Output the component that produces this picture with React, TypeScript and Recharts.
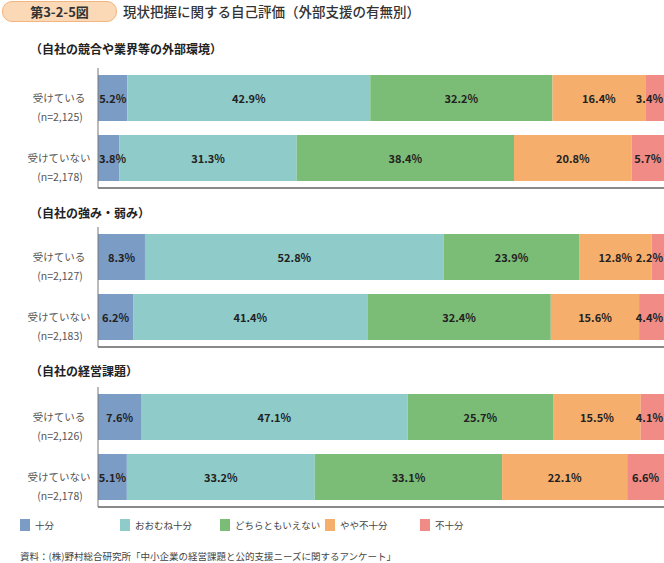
import React from 'react';
import { BarChart, Bar, XAxis, YAxis, LabelList } from 'recharts';

const seriesNames = ['十分', 'おおむね十分', 'どちらともいえない', 'やや不十分', '不十分'];
const seriesColors = ['#7b9cc5', '#8fcbc8', '#7bbc77', '#f5ae6c', '#f08b85'];

const panelTitles = ['（自社の競合や業界等の外部環境）', '（自社の強み・弱み）', '（自社の経営課題）'];
const rowLabels = ['受けている', '受けていない'];
const sampleSizes = [
  ['(n=2,125)', '(n=2,178)'],
  ['(n=2,127)', '(n=2,183)'],
  ['(n=2,126)', '(n=2,178)'],
];

// values per row, in series order
const environmentValues = [
  [5.2, 42.9, 32.2, 16.4, 3.4],
  [3.8, 31.3, 38.4, 20.8, 5.7],
];
const strengthValues = [
  [8.3, 52.8, 23.9, 12.8, 2.2],
  [6.2, 41.4, 32.4, 15.6, 4.4],
];
const issueValues = [
  [7.6, 47.1, 25.7, 15.5, 4.1],
  [5.1, 33.2, 33.1, 22.1, 6.6],
];

const panelValues = [environmentValues, strengthValues, issueValues];
const panelTops = [68, 227, 387];
const titleTops = [40, 204, 362];

const FONT = '"Noto Sans CJK JP", "Noto Sans", sans-serif';

const RowTick = ({ y, payload, sizes }: any) => {
  const idx = rowLabels.indexOf(payload.value);
  return (
    <g>
      <text x={59} y={y - 1} textAnchor="middle" dominantBaseline="central" fontSize={10.5} fill="#555" fontFamily={FONT}>
        {payload.value}
      </text>
      <text x={60} y={y + 18} textAnchor="middle" dominantBaseline="central" fontSize={10.5} fill="#555" fontFamily={FONT}>
        {sizes[idx]}
      </text>
    </g>
  );
};

// keep segment labels inside the plot, like the original
const SegmentLabel = ({ x, y, width, height, value }: any) => {
  const text = `${Number(value).toFixed(1)}%`;
  const half = text.length * 3.3;
  let cx = x + width / 2;
  let anchor: any = 'middle';
  if (cx + half > 663) {
    cx = 663;
    anchor = 'end';
  } else if (cx - half < 99) {
    cx = 99;
    anchor = 'start';
  }
  return (
    <text x={cx} y={y + height / 2} textAnchor={anchor} dominantBaseline="central" fill="#222" fontSize={11} fontWeight="bold" fontFamily={FONT}>
      {text}
    </text>
  );
};

const Panel = ({ values, sizes, top }: any) => {
  const data = rowLabels.map((name, i) => {
    const row: any = { name };
    values[i].forEach((v: number, k: number) => {
      row[`s${k}`] = v;
    });
    return row;
  });
  return (
    <div style={{ position: 'absolute', left: 0, top }}>
      <BarChart
        width={664}
        height={121}
        data={data}
        layout="vertical"
        margin={{ top: 0, right: 0, bottom: 0, left: 0 }}
      >
        <XAxis
          type="number"
          domain={[0, 100]}
          allowDataOverflow
          height={1}
          tick={false}
          tickLine={false}
          axisLine={{ stroke: '#8a8a8a', strokeWidth: 2 }}
        />
        <YAxis
          type="category"
          dataKey="name"
          width={98}
          tickLine={false}
          axisLine={{ stroke: '#777' }}
          tick={<RowTick sizes={sizes} />}
        />
        {seriesNames.map((s, k) => (
          <Bar key={s} dataKey={`s${k}`} stackId="a" fill={seriesColors[k]} barSize={46} isAnimationActive={false}>
            <LabelList dataKey={`s${k}`} content={<SegmentLabel />} />
          </Bar>
        ))}
      </BarChart>
    </div>
  );
};

const legendX = [20, 120, 220, 325, 420];

export default function App() {
  return (
    <div style={{ position: 'absolute', left: 0, top: 0, width: 664, height: 563, background: '#fff', fontFamily: FONT, overflow: 'hidden' }}>
      <div
        style={{
          position: 'absolute', left: 2, top: 1, width: 113, height: 19, borderRadius: 10,
          background: '#fbd8b6', border: '1px solid #f3b57f', textAlign: 'center',
          fontSize: 13, fontWeight: 'bold', color: '#333', lineHeight: '19px',
        }}
      >
        第3-2-5図
      </div>
      <div style={{ position: 'absolute', left: 123, top: 1, fontSize: 13.5, color: '#333', lineHeight: '20px', fontWeight: 500 }}>
        現状把握に関する自己評価（外部支援の有無別）
      </div>
      {panelTitles.map((t, i) => (
        <div key={t} style={{ position: 'absolute', left: 30, top: titleTops[i], fontSize: 12, fontWeight: 'bold', color: '#222', lineHeight: '17px' }}>
          {t}
        </div>
      ))}
      {panelValues.map((v, i) => (
        <Panel key={i} values={v} sizes={sampleSizes[i]} top={panelTops[i]} />
      ))}
      {seriesNames.map((s, k) => (
        <div key={s} style={{ position: 'absolute', left: legendX[k], top: 519, display: 'flex', alignItems: 'center' }}>
          <div style={{ width: 10, height: 12, background: seriesColors[k], marginRight: 5 }} />
          <span style={{ fontSize: 9.5, color: '#444', lineHeight: '12px' }}>{s}</span>
        </div>
      ))}
      <div style={{ position: 'absolute', left: 20, top: 549, fontSize: 9.5, color: '#444', lineHeight: '14px' }}>
        資料：(株)野村総合研究所「中小企業の経営課題と公的支援ニーズに関するアンケート」
      </div>
    </div>
  );
}
